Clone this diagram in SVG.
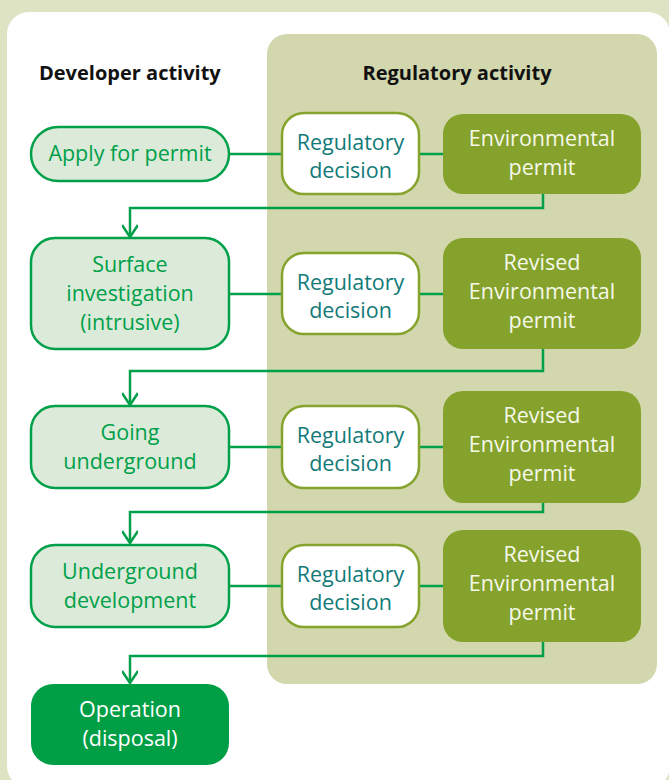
<svg xmlns="http://www.w3.org/2000/svg" width="669" height="780" viewBox="0 0 669 780">
<defs>
<style>
.t{font-family:"Open Sans","Noto Sans","Liberation Sans",sans-serif;font-size:21.5px;text-anchor:middle}
.hd{font-family:"Open Sans","Noto Sans","Liberation Sans",sans-serif;font-size:20px;font-weight:bold;fill:#111}
.dev rect{fill:#dcebd9;stroke:#00a04a;stroke-width:2.5}
.dev text{fill:#00a04a}
.reg rect{fill:#ffffff;stroke:#86a32d;stroke-width:2.5}
.reg text{fill:#127a78}
.perm rect{fill:#85a22c}
.perm text{fill:#f6f8ea}
.op rect{fill:#009e45}
.op text{fill:#ffffff}
.c path{fill:none;stroke:#00a04a;stroke-width:2.5}
</style>
<marker id="ah" viewBox="0 0 24 16" refX="22" refY="8" markerWidth="24" markerHeight="16" markerUnits="userSpaceOnUse" orient="auto">
<path d="M10 0 L22 8 L10 16" fill="none" stroke="#00a04a" stroke-width="2.5"/>
</marker>
</defs>
<rect x="0" y="0" width="669" height="780" fill="#dee3c4"/>
<rect x="7" y="12" width="663" height="776" rx="22" fill="#ffffff"/>
<rect x="267" y="34" width="390" height="650" rx="20" fill="#d2d7ad"/>
<text class="hd" x="39" y="80">Developer activity</text>
<text class="hd" x="457" y="80" text-anchor="middle">Regulatory activity</text>

<g class="c">
<path d="M229 154 H282"/>
<path d="M419 154 H443"/>
<path d="M229 294 H282"/>
<path d="M419 294 H443"/>
<path d="M229 447 H282"/>
<path d="M419 447 H443"/>
<path d="M229 586 H282"/>
<path d="M419 586 H443"/>
<path d="M543 194 V208 H130 V237" marker-end="url(#ah)"/>
<path d="M543 349 V371 H130 V405" marker-end="url(#ah)"/>
<path d="M543 503 V512 H130 V543" marker-end="url(#ah)"/>
<path d="M543 642 V656 H130 V683" marker-end="url(#ah)"/>
</g>

<g id="apply" class="dev"><rect x="31" y="127" width="198" height="54" rx="27"/><text class="t" x="130" y="161">Apply for permit</text></g>
<g id="reg1" class="reg"><rect x="282" y="113" width="137" height="81" rx="22"/><text class="t" x="350.5" y="150">Regulatory</text><text class="t" x="350.5" y="178">decision</text></g>
<g id="perm1" class="perm"><rect x="443" y="114" width="198" height="80" rx="20"/><text class="t" x="542" y="146">Environmental</text><text class="t" x="542" y="175">permit</text></g>

<g id="surface" class="dev"><rect x="31" y="238" width="198" height="111" rx="24"/><text class="t" x="130" y="272">Surface</text><text class="t" x="130" y="301">investigation</text><text class="t" x="130" y="330">(intrusive)</text></g>
<g id="reg2" class="reg"><rect x="282" y="253" width="137" height="81" rx="22"/><text class="t" x="350.5" y="290">Regulatory</text><text class="t" x="350.5" y="318">decision</text></g>
<g id="perm2" class="perm"><rect x="443" y="238" width="198" height="111" rx="20"/><text class="t" x="542" y="270">Revised</text><text class="t" x="542" y="299">Environmental</text><text class="t" x="542" y="328">permit</text></g>

<g id="going" class="dev"><rect x="31" y="406" width="198" height="82" rx="24"/><text class="t" x="130" y="440">Going</text><text class="t" x="130" y="469">underground</text></g>
<g id="reg3" class="reg"><rect x="282" y="406" width="137" height="82" rx="22"/><text class="t" x="350.5" y="443">Regulatory</text><text class="t" x="350.5" y="471">decision</text></g>
<g id="perm3" class="perm"><rect x="443" y="391" width="198" height="112" rx="20"/><text class="t" x="542" y="423">Revised</text><text class="t" x="542" y="452">Environmental</text><text class="t" x="542" y="481">permit</text></g>

<g id="ugdev" class="dev"><rect x="31" y="545" width="198" height="82" rx="24"/><text class="t" x="130" y="579">Underground</text><text class="t" x="130" y="608">development</text></g>
<g id="reg4" class="reg"><rect x="282" y="545" width="137" height="82" rx="22"/><text class="t" x="350.5" y="582">Regulatory</text><text class="t" x="350.5" y="610">decision</text></g>
<g id="perm4" class="perm"><rect x="443" y="530" width="198" height="112" rx="20"/><text class="t" x="542" y="562">Revised</text><text class="t" x="542" y="591">Environmental</text><text class="t" x="542" y="620">permit</text></g>

<g id="operation" class="op"><rect x="31" y="684" width="198" height="81" rx="22"/><text class="t" x="130" y="717">Operation</text><text class="t" x="130" y="746">(disposal)</text></g>
</svg>
